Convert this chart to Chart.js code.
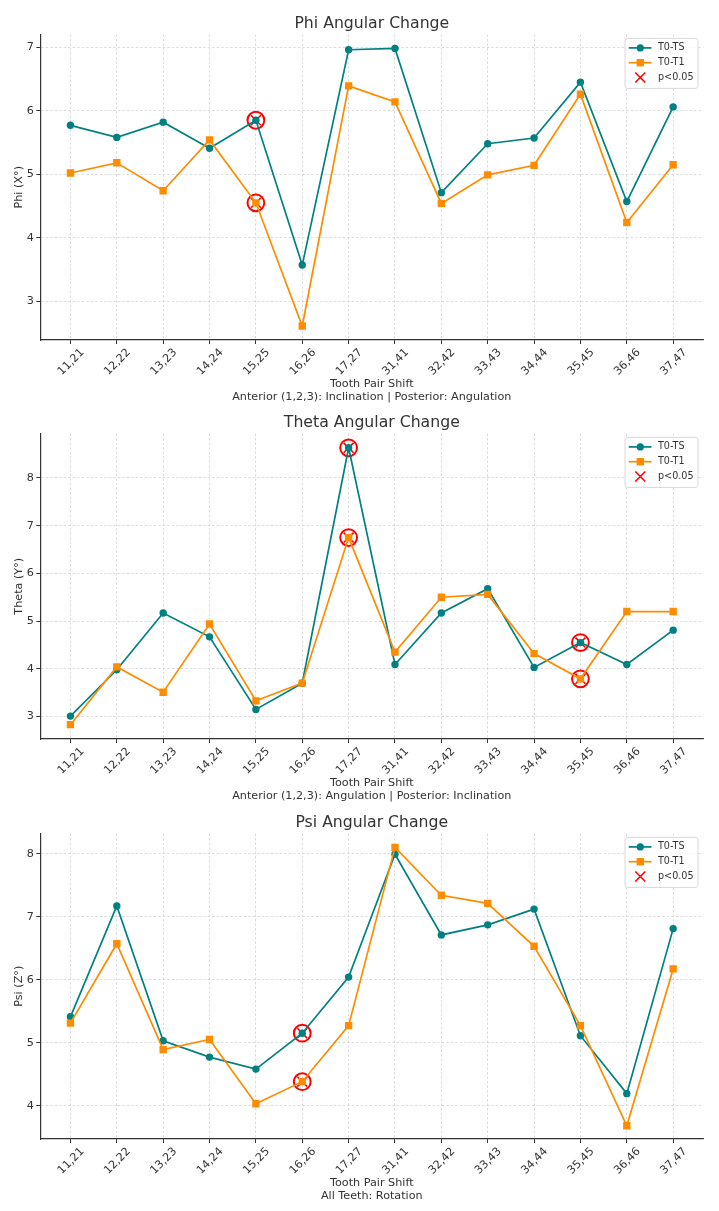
<!DOCTYPE html>
<html>
<head>
<meta charset="utf-8">
<script src="https://cdn.jsdelivr.net/npm/chart.js@4.4.1/dist/chart.umd.min.js"></script>
<style>
  html, body { margin: 0; padding: 0; background: #fff; }
  #wrap { position: relative; width: 719px; height: 1211px; overflow: hidden; }
  canvas { position: absolute; left: 0; }
</style>
</head>
<body>
<div id="wrap">
  <canvas id="phiChart" width="719" height="404" style="top:0px"></canvas>
  <canvas id="thetaChart" width="719" height="404" style="top:399px"></canvas>
  <canvas id="psiChart" width="719" height="412" style="top:799px"></canvas>
</div>
<script>
// Data
const toothPairs = ['11,21', '12,22', '13,23', '14,24', '15,25', '16,26', '17,27',
                    '31,41', '32,42', '33,43', '34,44', '35,45', '36,46', '37,47'];

const phiTS = [5.77, 5.58, 5.82, 5.41, 5.85, 3.57, 6.96, 6.98, 4.71, 5.48, 5.57, 6.45, 4.57, 6.06];
const phiT1 = [5.02, 5.18, 4.74, 5.54, 4.55, 2.61, 6.39, 6.14, 4.54, 4.99, 5.14, 6.26, 4.24, 5.15];
const phiSig = [4];
const phiTicks = [3, 4, 5, 6, 7];
const phiRange = [2.39, 7.2];

const thetaTS = [3.01, 3.98, 5.17, 4.67, 3.15, 3.70, 8.63, 4.09, 5.17, 5.68, 4.03, 4.55, 4.09, 4.81];
const thetaT1 = [2.83, 4.04, 3.51, 4.94, 3.33, 3.70, 6.75, 4.35, 5.50, 5.56, 4.32, 3.79, 5.20, 5.20];
const thetaSig = [6, 11];
const thetaTicks = [3, 4, 5, 6, 7, 8];
const thetaRange = [2.53, 8.93];

const psiTS = [5.41, 7.17, 5.03, 4.77, 4.58, 5.15, 6.04, 7.99, 6.71, 6.87, 7.12, 5.11, 4.19, 6.81];
const psiT1 = [5.31, 6.57, 4.89, 5.05, 4.03, 4.38, 5.27, 8.10, 7.34, 7.21, 6.53, 5.27, 3.68, 6.17];
const psiSig = [5];
const psiTicks = [4, 5, 6, 7, 8];
const psiRange = [3.47, 8.32];

const TEAL = '#008080';
const ORANGE = '#ff8c00';
const GRID = '#d4d4d4';
const AXIS = '#333333';
const FONT = '"DejaVu Sans", sans-serif';

Chart.defaults.font.family = FONT;
Chart.defaults.color = '#333';

// Title centred over the plot area
const panelTitle = {
  id: 'panelTitle',
  afterDraw(chart, args, opts) {
    const { ctx, chartArea } = chart;
    ctx.save();
    ctx.font = '15.7px ' + FONT;
    ctx.fillStyle = '#333';
    ctx.textAlign = 'center';
    ctx.textBaseline = 'middle';
    ctx.fillText(opts.text, (chartArea.left + chartArea.right) / 2, 23.6);
    ctx.restore();
  }
};

// matplotlib-like legend box, upper right
const boxLegend = {
  id: 'boxLegend',
  afterDraw(chart) {
    const { ctx, chartArea: a } = chart;
    const w = 73, h = 50, x = a.right - w - 5.3, y = a.top + 3.9;
    ctx.save();
    ctx.beginPath();
    ctx.roundRect(x, y, w, h, 2.5);
    ctx.fillStyle = 'rgba(255,255,255,0.8)';
    ctx.fill();
    ctx.strokeStyle = '#d8d8d8';
    ctx.lineWidth = 1;
    ctx.stroke();
    const rows = [
      { label: 'T0-TS', color: TEAL, mark: 'circle' },
      { label: 'T0-T1', color: ORANGE, mark: 'square' },
      { label: 'p<0.05', color: 'red', mark: 'x' }
    ];
    rows.forEach((r, i) => {
      const cy = y + 9.5 + i * 14.8, mx = x + 15.3;
      ctx.strokeStyle = r.color;
      ctx.fillStyle = r.color;
      if (r.mark !== 'x') {
        ctx.lineWidth = 1.7;
        ctx.beginPath();
        ctx.moveTo(x + 3.7, cy);
        ctx.lineTo(x + 26.5, cy);
        ctx.stroke();
      }
      if (r.mark === 'circle') {
        ctx.beginPath();
        ctx.arc(mx, cy, 3.6, 0, Math.PI * 2);
        ctx.fill();
      } else if (r.mark === 'square') {
        ctx.fillRect(mx - 3.7, cy - 3.7, 7.4, 7.4);
      } else {
        ctx.lineWidth = 1.6;
        ctx.beginPath();
        ctx.moveTo(mx - 5, cy - 5); ctx.lineTo(mx + 5, cy + 5);
        ctx.moveTo(mx + 5, cy - 5); ctx.lineTo(mx - 5, cy + 5);
        ctx.stroke();
      }
      ctx.font = '9.6px ' + FONT;
      ctx.fillStyle = '#333';
      ctx.textAlign = 'left';
      ctx.textBaseline = 'middle';
      ctx.fillText(r.label, x + 33, cy);
    });
    ctx.restore();
  }
};

function makeChart(id, cfg) {
  const canvas = document.getElementById(id);
  const H = canvas.height;
  const pts = arr => arr.map((v, i) => ({ x: i, y: v }));
  const sigPts = cfg.sig.flatMap(i => [{ x: i, y: cfg.ts[i] }, { x: i, y: cfg.t1[i] }]);

  new Chart(canvas, {
    type: 'line',
    data: {
      datasets: [
        {
          label: 'T0-T1', data: pts(cfg.t1), order: 0,
          borderColor: ORANGE, backgroundColor: ORANGE, borderWidth: 1.7,
          pointStyle: 'rect', pointRadius: 5.2, pointBorderWidth: 0, tension: 0
        },
        {
          label: 'T0-TS', data: pts(cfg.ts), order: 1,
          borderColor: TEAL, backgroundColor: TEAL, borderWidth: 1.7,
          pointStyle: 'circle', pointRadius: 3.7, pointBorderWidth: 0, tension: 0
        },
        {
          label: 'ring', data: sigPts, order: 2, showLine: false,
          borderColor: 'red', backgroundColor: 'rgba(0,0,0,0)',
          pointStyle: 'circle', pointRadius: 8.4, pointBorderWidth: 2
        },
        {
          label: 'p<0.05', data: sigPts, order: 3, showLine: false,
          borderColor: 'red', backgroundColor: 'red',
          pointStyle: 'crossRot', pointRadius: 7, pointBorderWidth: 1.6
        }
      ]
    },
    options: {
      responsive: false,
      animation: false,
      devicePixelRatio: 1,
      layout: { padding: { top: 34.5, right: 15.7, left: 0, bottom: H - 404 } },
      plugins: {
        legend: { display: false },
        tooltip: { enabled: false },
        panelTitle: { text: cfg.title }
      },
      scales: {
        x: {
          type: 'linear', min: -0.65, max: 13.65,
          afterBuildTicks: s => { s.ticks = toothPairs.map((_, i) => ({ value: i })); },
          afterFit: s => { s.height = 64; },
          ticks: {
            callback: v => toothPairs[v],
            autoSkip: false, minRotation: 45, maxRotation: 45,
            padding: 2, labelOffset: 12,
            font: { size: 11.2 }, color: '#333'
          },
          grid: { color: GRID, lineWidth: 0.8, tickLength: 4, tickColor: AXIS, tickWidth: 1, tickBorderDash: [] },
          border: { color: AXIS, width: 1.2, dash: [2.5, 2] },
          title: {
            display: true, text: ['Tooth Pair Shift', cfg.note], color: '#333',
            font: { size: 11.2, lineHeight: 1.18 }, padding: { top: 0, bottom: 0.5 }
          }
        },
        y: {
          min: cfg.range[0], max: cfg.range[1],
          afterBuildTicks: s => { s.ticks = cfg.ticks.map(v => ({ value: v })); },
          afterFit: s => { s.width = 40.3; },
          ticks: { padding: 2.5, font: { size: 11.2 }, color: '#333' },
          grid: { color: GRID, lineWidth: 0.8, tickLength: 4, tickColor: AXIS, tickWidth: 1, tickBorderDash: [] },
          border: { color: AXIS, width: 1.2, dash: [2.5, 2] },
          title: {
            display: true, text: cfg.yLabel, color: '#333',
            font: { size: 11.2, lineHeight: 1.2 }, padding: { top: 12, bottom: 0 }
          }
        }
      }
    },
    plugins: [panelTitle, boxLegend]
  });
}

makeChart('phiChart', {
  title: 'Phi Angular Change', yLabel: 'Phi (X°)',
  note: 'Anterior (1,2,3): Inclination | Posterior: Angulation',
  ts: phiTS, t1: phiT1, sig: phiSig, ticks: phiTicks, range: phiRange
});
makeChart('thetaChart', {
  title: 'Theta Angular Change', yLabel: 'Theta (Y°)',
  note: 'Anterior (1,2,3): Angulation | Posterior: Inclination',
  ts: thetaTS, t1: thetaT1, sig: thetaSig, ticks: thetaTicks, range: thetaRange
});
makeChart('psiChart', {
  title: 'Psi Angular Change', yLabel: 'Psi (Z°)',
  note: 'All Teeth: Rotation',
  ts: psiTS, t1: psiT1, sig: psiSig, ticks: psiTicks, range: psiRange
});
</script>
</body>
</html>
